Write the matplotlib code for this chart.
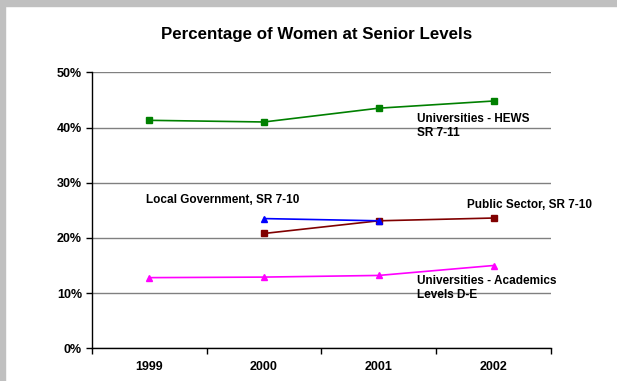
import matplotlib
matplotlib.use("Agg")
import matplotlib.pyplot as plt
import numpy as np

years = ["1999", "2000", "2001", "2002"]
hews = [41.3, 41.0, 43.5, 44.8]
academics = [12.8, 12.9, 13.2, 15.0]
local_gov = [None, 23.5, 23.1, None]
public_sector = [None, 20.8, 23.1, 23.6]

plt.rcParams['font.family'] = ['Liberation Sans', 'DejaVu Sans']

W, H = 617, 381
fig = plt.figure(figsize=(W/100, H/100), dpi=100)
fig.patch.set_facecolor('white')

# gray frame on top and left
fig.add_artist(plt.Rectangle((0, 1 - 6/H), 1, 6/H, transform=fig.transFigure, color='#c0c0c0', zorder=0))
fig.add_artist(plt.Rectangle((0, 0), 5/W, 1, transform=fig.transFigure, color='#c0c0c0', zorder=0))

x0, x1 = 91.7, 551
y0, y1 = 348.3, 72.3
ax = fig.add_axes([x0/W, (H - y0)/H, (x1 - x0)/W, (y0 - y1)/H])

x = np.arange(len(years))

def arr(v):
    return np.array([np.nan if a is None else a for a in v], dtype=float)

ax.plot(x, arr(hews), color='#008000', marker='s', markersize=4.5, lw=1.2, zorder=3)
ax.plot(x, arr(academics), color='#ff00ff', marker='^', markersize=5, lw=1.2, zorder=3)
ax.plot(x, arr(public_sector), color='#800000', marker='s', markersize=4.5, lw=1.2, zorder=3)
ax.plot(x, arr(local_gov), color='#0000ff', marker='^', markersize=5, lw=1.2, zorder=4)

ax.set_xlim(-0.5, 3.5)
ax.set_ylim(0, 50)
ax.set_yticks([0, 10, 20, 30, 40, 50])
ax.set_yticklabels([f"{v}%" for v in [0, 10, 20, 30, 40, 50]], fontsize=9, fontweight='bold')
ax.set_xticks(x)
ax.set_xticklabels(years, fontsize=9, fontweight='bold')
ax.tick_params(axis='x', length=0, pad=9)
ax.set_xticks([-0.5, 0.5, 1.5, 2.5, 3.5], minor=True)
ax.tick_params(axis='x', which='minor', length=4, width=1, direction='out')
ax.tick_params(axis='y', length=4, width=1, direction='out', pad=3)

ax.yaxis.grid(True, color='#808080', lw=1)
ax.set_axisbelow(True)
for s in ['top', 'right']:
    ax.spines[s].set_visible(False)
for s in ['left', 'bottom']:
    ax.spines[s].set_linewidth(1)
    ax.spines[s].set_color('black')

fig.text(316.6/W, 1 - 35/H, "Percentage of Women at Senior Levels", ha='center', va='center',
         fontsize=12.2, fontweight='bold')

def lbl(px, py, s):
    fig.text(px/W, 1 - py/H, s, ha='left', va='center', fontsize=8.5, fontweight='bold', linespacing=1.2)

lbl(417.3, 126.3, "Universities - HEWS\nSR 7-11")
lbl(146, 200, "Local Government, SR 7-10")
lbl(467.3, 205, "Public Sector, SR 7-10")
lbl(417.3, 288.2, "Universities - Academics\nLevels D-E")

fig.savefig("out.png", dpi=100)
